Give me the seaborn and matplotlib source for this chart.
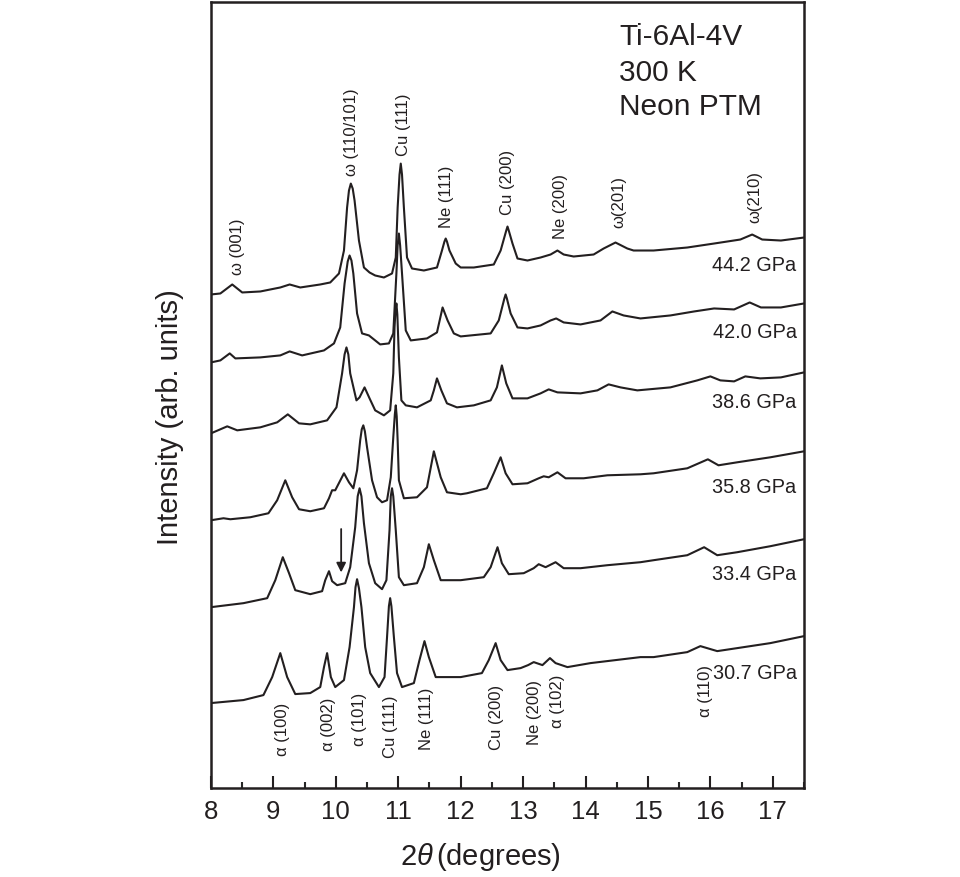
import pandas as pd
import matplotlib
matplotlib.use("Agg")
import matplotlib.pyplot as plt
from matplotlib.ticker import MultipleLocator
import seaborn as sns

# XRD patterns of Ti-6Al-4V (offset stacked), 2theta in degrees, intensity in arb. units
pressures = ['44.2 GPa', '42.0 GPa', '38.6 GPa', '35.8 GPa', '33.4 GPa', '30.7 GPa']

tt_442 = [8.00, 8.15, 8.34, 8.50, 8.79, 9.11, 9.26, 9.43, 9.75, 9.91, 10.05, 10.13, 10.18, 10.21, 10.24,
          10.27, 10.30, 10.37, 10.45, 10.54, 10.63, 10.77, 10.90, 10.96, 10.99, 11.02, 11.04, 11.06, 11.09,
          11.14, 11.22, 11.41, 11.62, 11.70, 11.74, 11.76, 11.78, 11.82, 11.92, 12.00, 12.21, 12.53,
          12.64, 12.73, 12.75, 12.77, 12.83, 12.91, 13.07, 13.28, 13.44, 13.55, 13.65, 13.81, 14.13,
          14.29, 14.48, 14.67, 14.77, 15.09, 15.63, 16.06, 16.48, 16.67, 16.83, 17.13, 17.50]
int_442 = [494, 495, 504, 496, 497, 501, 504, 501, 504, 506, 515, 538, 581, 598, 605,
           600, 588, 548, 521, 516, 513, 511, 515, 531, 581, 614, 625, 614, 581,
           531, 520, 518, 521, 538, 547, 550, 547, 538, 525, 521, 521, 524,
           538, 558, 562, 558, 545, 530, 528, 531, 534, 538, 534, 532, 534,
           540, 546, 540, 538, 538, 541, 545, 549, 554, 549, 548, 551]

tt_420 = [8.00, 8.15, 8.30, 8.39, 8.79, 9.11, 9.26, 9.46, 9.81, 9.97, 10.07, 10.14, 10.19, 10.22, 10.25,
          10.28, 10.34, 10.42, 10.53, 10.61, 10.71, 10.85, 10.92, 10.97, 10.99, 11.01, 11.03, 11.06,
          11.12, 11.20, 11.46, 11.62, 11.71, 11.79, 11.89, 12.00, 12.48, 12.61, 12.70, 12.72, 12.74,
          12.80, 12.91, 13.07, 13.28, 13.44, 13.53, 13.65, 13.92, 14.24, 14.43, 14.61, 14.88, 15.36,
          15.74, 16.06, 16.38, 16.63, 16.81, 17.13, 17.50]
int_420 = [426, 428, 435, 430, 431, 433, 437, 433, 438, 445, 461, 505, 527, 533, 528,
           515, 475, 455, 453, 449, 444, 445, 455, 515, 543, 555, 543, 515,
           458, 448, 450, 456, 481, 468, 455, 452, 455, 468, 490, 494, 490,
           475, 461, 460, 463, 468, 470, 466, 464, 468, 477, 473, 470, 473,
           477, 480, 479, 486, 481, 481, 485]

tt_386 = [8.00, 8.26, 8.42, 8.79, 9.06, 9.23, 9.41, 9.59, 9.86, 10.01, 10.10, 10.14, 10.17, 10.20, 10.23,
          10.33, 10.38, 10.46, 10.54, 10.63, 10.77, 10.87, 10.92, 10.94, 10.955, 10.97, 10.985, 11.01,
          11.05, 11.12, 11.30, 11.52, 11.57, 11.62, 11.69, 11.78, 11.94, 12.21, 12.48, 12.58, 12.66,
          12.73, 12.83, 13.07, 13.28, 13.41, 13.55, 13.92, 14.19, 14.37, 14.56, 14.83, 15.36, 15.79,
          16.00, 16.16, 16.38, 16.56, 16.80, 17.13, 17.50]
int_386 = [355, 362, 358, 361, 366, 374, 365, 364, 368, 381, 415, 434, 441, 434, 415,
           388, 391, 401, 390, 378, 373, 378, 415, 461, 477, 485, 474, 431,
           388, 383, 381, 388, 398, 410, 398, 385, 381, 383, 388, 401, 423,
           405, 390, 390, 395, 399, 396, 395, 398, 404, 401, 398, 401, 408,
           412, 408, 407, 412, 410, 411, 416]

tt_358 = [8.00, 8.20, 8.31, 8.63, 8.92, 9.06, 9.19, 9.30, 9.41, 9.59, 9.81, 9.89, 9.94, 9.99,
          10.13, 10.21, 10.28, 10.34, 10.39, 10.415, 10.44, 10.465, 10.50, 10.58, 10.66, 10.74, 10.82,
          10.88, 10.92, 10.945, 10.96, 10.975, 10.99, 11.01, 11.09, 11.30, 11.46, 11.57, 11.68, 11.78,
          12.00, 12.10, 12.42, 12.53, 12.64, 12.72, 12.83, 13.07, 13.25, 13.33, 13.41, 13.55, 13.68,
          13.97, 14.35, 14.88, 15.09, 15.63, 15.96, 16.13, 16.43, 16.96, 17.50]
int_358 = [268, 270, 269, 271, 275, 288, 308, 291, 279, 277, 280, 290, 298, 298,
           315, 306, 300, 318, 348, 359, 363, 357, 341, 308, 291, 286, 288,
           311, 351, 374, 383, 372, 348, 308, 290, 291, 301, 337, 311, 296,
           294, 295, 300, 315, 331, 315, 304, 305, 310, 312, 311, 316, 310,
           310, 313, 314, 315, 320, 329, 323, 326, 331, 337]

tt_334 = [8.00, 8.52, 8.90, 9.03, 9.15, 9.25, 9.35, 9.59, 9.78, 9.83, 9.89, 9.94, 10.02, 10.15,
          10.23, 10.31, 10.35, 10.38, 10.41, 10.45, 10.53, 10.63, 10.74, 10.81, 10.86, 10.88, 10.90,
          10.92, 10.96, 11.01, 11.09, 11.30, 11.41, 11.49, 11.57, 11.68, 12.00, 12.37, 12.48, 12.59,
          12.66, 12.77, 13.01, 13.17, 13.25, 13.36, 13.52, 13.65, 13.92, 14.35, 14.88, 15.09, 15.63,
          15.90, 16.11, 16.43, 16.96, 17.50]
int_334 = [181, 185, 190, 208, 231, 215, 198, 194, 197, 208, 217, 207, 203, 205,
           221, 261, 292, 300, 292, 265, 225, 205, 199, 208, 258, 292, 300,
           292, 258, 211, 203, 205, 221, 244, 228, 208, 208, 211, 221, 241,
           225, 214, 215, 220, 224, 221, 226, 220, 220, 223, 226, 228, 233,
           241, 233, 236, 242, 249]

tt_307 = [8.00, 8.52, 8.84, 8.98, 9.11, 9.22, 9.35, 9.59, 9.75, 9.81, 9.86, 9.92, 9.99, 10.13,
          10.22, 10.29, 10.315, 10.34, 10.37, 10.41, 10.47, 10.55, 10.69, 10.78, 10.82, 10.85, 10.87,
          10.89, 10.93, 10.98, 11.06, 11.25, 11.34, 11.42, 11.49, 11.60, 12.00, 12.34, 12.45, 12.56,
          12.64, 12.75, 12.96, 13.08, 13.17, 13.31, 13.43, 13.52, 13.71, 14.08, 14.88, 15.09, 15.63,
          15.84, 16.11, 16.43, 16.96, 17.50]
int_307 = [85, 88, 93, 111, 135, 111, 94, 95, 101, 121, 135, 111, 101, 108,
           141, 181, 201, 209, 200, 181, 141, 115, 101, 111, 151, 182, 190,
           182, 151, 115, 101, 105, 128, 147, 131, 111, 111, 115, 128, 145,
           128, 118, 120, 123, 126, 123, 130, 125, 121, 125, 131, 131, 136,
           142, 137, 140, 145, 152]

# peak assignments
top_labels = ['ω (001)', 'ω (110/101)', 'Cu (111)', 'Ne (111)', 'Cu (200)', 'Ne (200)', 'ω(201)', 'ω(210)']
bottom_labels = ['α (100)', 'α (002)', 'α (101)', 'Cu (111)', 'Ne (111)', 'Cu (200)', 'Ne (200)', 'α (102)', 'α (110)']

curves = [(tt_442, int_442), (tt_420, int_420), (tt_386, int_386),
          (tt_358, int_358), (tt_334, int_334), (tt_307, int_307)]
frames = []
for p, (tt, it) in zip(pressures, curves):
    frames.append(pd.DataFrame({'two_theta': tt, 'intensity': it, 'pressure': p}))
df = pd.concat(frames, ignore_index=True)

sns.set_style("white")
plt.rcParams['font.family'] = ['Liberation Sans', 'DejaVu Sans']
plt.rcParams['mathtext.fontset'] = 'custom'
plt.rcParams['mathtext.rm'] = 'Liberation Sans'
plt.rcParams['mathtext.it'] = 'Liberation Sans:italic'

ink = '#231f20'
fig = plt.figure(figsize=(9.6, 8.77), dpi=100)
ax = fig.add_axes([0.2198, 0.1015, 0.6177, 0.8965])

sns.lineplot(data=df, x='two_theta', y='intensity', units='pressure', estimator=None,
             sort=False, color=ink, linewidth=1.5, ax=ax, legend=False)

ax.set_xlim(8, 17.5)
ax.set_ylim(0, 787)
ax.set_yticks([])
ax.xaxis.set_major_locator(MultipleLocator(1))
ax.xaxis.set_minor_locator(MultipleLocator(0.5))
ax.tick_params(axis='x', which='major', direction='in', length=8.5, width=1.5,
               labelsize=18.5, pad=9, colors=ink, bottom=True, top=False)
ax.tick_params(axis='x', which='minor', direction='in', length=4.3, width=1.5,
               bottom=True, top=False)
for s in ax.spines.values():
    s.set_linewidth(1.8)
    s.set_color(ink)

ax.set_xlabel(r'2$\theta\,$(degrees)', fontsize=21, color=ink)
ax.xaxis.set_label_coords(0.454, -0.088)
ax.xaxis.label.set_va('center')
ax.set_ylabel('Intensity (arb. units)', fontsize=21, color=ink)
ax.yaxis.set_label_coords(-0.069, 0.472)
ax.yaxis.label.set_va('center')

# sample info
for txt, y in zip(['Ti-6Al-4V', '300 K', 'Neon PTM'], [0.955, 0.910, 0.866]):
    ax.text(0.688, y, txt, transform=ax.transAxes, fontsize=21.5, color=ink,
            ha='left', va='center')

# pressure labels
p_pos = [(17.38, 523), (17.38, 456), (17.38, 386), (17.38, 301), (17.38, 214), (17.38, 115)]
for p, (x, y) in zip(pressures, p_pos):
    ax.text(x, y, p, fontsize=14.3, color=ink, ha='right', va='center')

# peak labels
top_pos = [(8.42, 513), (10.25, 613), (11.08, 633), (11.77, 561), (12.75, 574),
           (13.60, 550), (14.53, 561), (16.72, 566)]
for lab, (x, y) in zip(top_labels, top_pos):
    ax.text(x, y, lab, rotation=90, fontsize=12, color=ink, ha='center', va='bottom')

bot_pos = [(9.14, 85), (9.88, 90), (10.38, 95), (10.88, 93), (11.46, 100),
           (12.57, 103), (13.18, 108), (13.55, 113), (15.92, 123)]
for lab, (x, y) in zip(bottom_labels, bot_pos):
    ax.text(x, y, lab, rotation=90, fontsize=12, color=ink, ha='center', va='top')

# arrow marking the weak shoulder at 33.4 GPa
ax.annotate('', xy=(10.085, 213), xytext=(10.085, 262),
            arrowprops=dict(arrowstyle='-|>', color=ink, lw=1.3, mutation_scale=14))

fig.savefig('out.png', dpi=100, facecolor='white')
